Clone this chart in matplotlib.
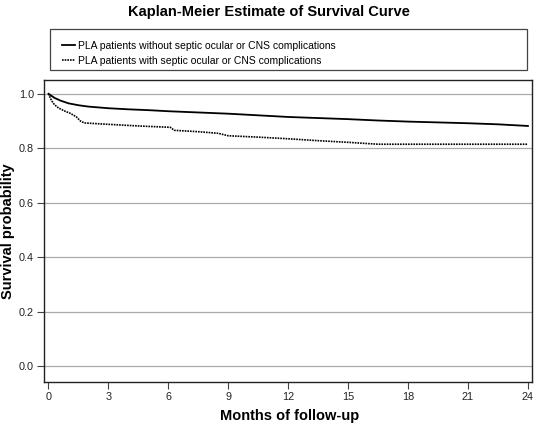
import matplotlib
matplotlib.use("Agg")
import matplotlib.pyplot as plt
from matplotlib.patches import Rectangle

plt.rcParams['font.family'] = ['Liberation Sans', 'DejaVu Sans']

# Kaplan-Meier curves (months, survival)
months_without = [0, 0.3, 0.6, 1.0, 1.5, 2.0, 3.0, 4.0, 5.0, 6.0, 7.0, 8.0, 9.0,
                  10.0, 11.0, 12.0, 13.5, 15.0, 16.5, 18.0, 19.5, 21.0, 22.5, 24.0]
surv_without = [1.0, 0.985, 0.975, 0.965, 0.958, 0.953, 0.947, 0.943, 0.940, 0.936,
                0.933, 0.930, 0.927, 0.923, 0.919, 0.915, 0.911, 0.907, 0.902,
                0.898, 0.895, 0.892, 0.888, 0.882]

months_with = [0, 0.15, 0.3, 0.5, 0.8, 1.1, 1.4, 1.6, 1.8, 3.0, 4.5, 6.1, 6.3, 7.5,
               8.5, 9.0, 10.5, 12.0, 13.5, 15.0, 16.5, 18.0, 24.0]
surv_with = [1.0, 0.975, 0.96, 0.948, 0.937, 0.928, 0.915, 0.900, 0.893, 0.888,
             0.882, 0.877, 0.866, 0.861, 0.855, 0.846, 0.841, 0.835, 0.828,
             0.822, 0.815, 0.815, 0.815]

label_without = "PLA patients without septic ocular or CNS complications"
label_with = "PLA patients with septic ocular or CNS complications"
x_ticks = [0, 3, 6, 9, 12, 15, 18, 21, 24]
y_ticks = [0.0, 0.2, 0.4, 0.6, 0.8, 1.0]

fig = plt.figure(figsize=(5.37, 4.28), dpi=100)
ax = fig.add_axes([0.0825, 0.1075, 0.9075, 0.7065])

for y in y_ticks:
    ax.axhline(y, color='#aaaaaa', lw=0.9, zorder=1)

l1, = ax.plot(months_without, surv_without, color='black', lw=1.3, zorder=3)
l2, = ax.plot(months_with, surv_with, color='black', lw=1.2, ls=(0, (1, 0.6)), zorder=3)

ax.set_xlim(-0.21, 24.185)
ax.set_ylim(-0.057, 1.052)
ax.set_xticks(x_ticks)
ax.set_yticks(y_ticks)
ax.set_yticklabels([f"{v:.1f}" for v in y_ticks])
ax.tick_params(labelsize=7.8, length=5, width=0.8, color='#444444', pad=2.5,
               labelcolor='#222222')
for s in ax.spines.values():
    s.set_linewidth(1.0)
    s.set_color('#222222')

ax.set_xlabel("Months of follow-up", fontsize=10.5, fontweight='bold')
ax.set_ylabel("Survival probability", fontsize=10.5, fontweight='bold')
ax.xaxis.set_label_coords(0.503, -0.114)
ax.yaxis.set_label_coords(-0.074, 0.5)
ax.xaxis.label.set_va('center')
ax.yaxis.label.set_va('center')

fig.text(0.5, 1 - 12 / 428, "Kaplan-Meier Estimate of Survival Curve",
         ha='center', va='center', fontsize=10.5, fontweight='bold')

# legend box
W, H = 537.0, 428.0
fig.patches.append(Rectangle((50 / W, 1 - 70 / H), 477 / W, 41 / H,
                             transform=fig.transFigure, fill=False,
                             edgecolor='#444444', lw=0.9))
fig.legend([l1, l2], [label_without, label_with], loc='upper left',
           bbox_to_anchor=(62 / W, 1 - 41 / H), frameon=False, fontsize=7.5,
           handlelength=1.2, handletextpad=0.3, labelspacing=0.45,
           borderpad=0, borderaxespad=0)

fig.savefig("out.png", dpi=100)
